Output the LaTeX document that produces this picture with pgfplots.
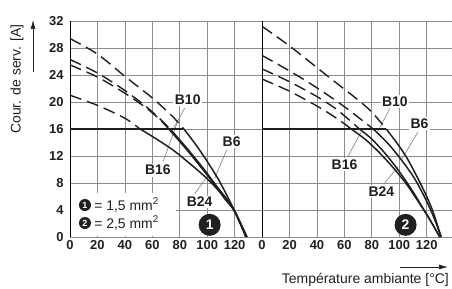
\documentclass[border=0pt]{standalone}
\usepackage{pgfplots}
\pgfplotsset{compat=1.18}
\usepackage{fontspec}
\setmainfont{Liberation Sans}
\usetikzlibrary{arrows.meta}
\definecolor{gridc}{gray}{0.55}
\definecolor{ink}{gray}{0.12}
\tikzset{
  sol/.style={draw=ink, line width=1.5bp, smooth, tension=0.5},
  dsh/.style={draw=ink, smooth, tension=0.5, dash pattern=on 12bp off 6bp, line width=1.4bp},
  lab/.style={font=\fontsize{14}{16}\selectfont\bfseries, fill=white, inner sep=1.5bp, text=ink},
  lead/.style={draw=gray, line width=0.6bp},
  bigc/.style={circle, fill=ink, text=white, minimum size=22bp, inner sep=0pt, font=\fontsize{14}{14}\selectfont\bfseries},
  smallc/.style={circle, fill=ink, text=white, minimum size=12bp, inner sep=0pt, font=\fontsize{9}{9}\selectfont\bfseries},
}
\pgfplotsset{
  panel/.style={
    scale only axis, clip=false,
    x=1.372bp, y=6.75bp,
    ymin=0, ymax=32, xmin=0,
    grid=major, major grid style={draw=gridc, line width=0.7bp},
    axis line style={draw=gridc, line width=0.7bp},
    major tick length=0pt,
    ytick={0,4,...,32},
    xtick={0,20,...,120},
    tick label style={font=\fontsize{13}{14}\selectfont\bfseries, text=ink},
    yticklabel style={xshift=-3bp},
    /pgf/number format/assume math mode=true,
    no markers,
  },
}
\begin{document}
\begin{tikzpicture}
\useasboundingbox (0,0) rectangle (452bp,289bp);
% ---------------- left panel (1,5 mm2)
\begin{axis}[panel, at={(70bp,52bp)}, anchor=south west, xmax=140]
\fill[white] (axis cs:0.4,0.15) rectangle (axis cs:77.5,6.5);
\node[smallc] at (axis cs:10.9,4.74) {1};
\node[smallc] at (axis cs:10.9,2.07) {2};
\node[anchor=west, font=\fontsize{14}{16}\selectfont, text=ink, inner sep=0pt] at (axis cs:17.6,4.74) {= 1,5 mm\textsuperscript{2}};
\node[anchor=west, font=\fontsize{14}{16}\selectfont, text=ink, inner sep=0pt] at (axis cs:17.6,2.07) {= 2,5 mm\textsuperscript{2}};
\draw[lead] (axis cs:83.6,19.1) -- (axis cs:74.9,15.9);
\draw[lead] (axis cs:67.9,11.2) -- (axis cs:78.8,17.3);
\draw[lead] (axis cs:114.2,12.9) -- (axis cs:105.5,8.7);
\draw[lead] (axis cs:90.9,6.4) -- (axis cs:101.1,9.3);
\node[lab] at (axis cs:85.8,20.4) {B10};
\node[lab] at (axis cs:64,9.9) {B16};
\node[lab] at (axis cs:117.8,14.1) {B6};
\node[lab] at (axis cs:94.5,5.2) {B24};
\node[bigc] at (axis cs:101.8,1.8) {1};
\draw[black, line width=1bp] (axis cs:0,0) -- (axis cs:0,32);
% horizontal limit
\addplot[draw=ink, line width=1.7bp] coordinates {(0,16) (82.6,16)};
% curve L1
\addplot[dsh] coordinates {(0,29.4) (20,27.1) (40,23.8) (60,20.6) (75,17.8) (83,16)};
\addplot[sol] coordinates {(83,16) (92,13.6) (100,11.2) (108,8.6) (114,6.3) (119,4.3) (124,2.2) (129,0)};
% curve L2
\addplot[dsh] coordinates {(0,26.3) (20,24.3) (40,21.7) (55,19.4) (65,17.6) (73,16)};
\addplot[sol] coordinates {(73,16) (85,13.2) (97,10.2) (107,7.5) (114,5.7) (119,4.2) (124,2.1) (129,0)};
% curve L3
\addplot[dsh] coordinates {(0,25.5) (20,23.7) (40,21.3) (55,19.2) (65,17.5) (72,16)};
\addplot[sol] coordinates {(72,16) (84,13.2) (96,10.2) (106,7.6) (113,5.6) (119,4.1) (124,2.0) (128.5,0)};
% curve L4
\addplot[dsh] coordinates {(0,21.0) (20,19.5) (40,17.6) (51,16)};
\addplot[sol] coordinates {(51,16) (60,14.9) (75,12.9) (86,11.1) (97,9.2) (105,7.6) (112,6.0) (119,4.2) (124,2.1) (128,0)};
\end{axis}
% ---------------- right panel (2,5 mm2)
\begin{axis}[panel, at={(262.08bp,52bp)}, anchor=south west, xmax=139, yticklabels={}]
\draw[lead] (axis cs:93,19) -- (axis cs:84,15.5);
\draw[lead] (axis cs:113.4,15.5) -- (axis cs:101.5,11.4);
\draw[lead] (axis cs:62.5,11.9) -- (axis cs:72.3,15.6);
\draw[lead] (axis cs:89.3,8.0) -- (axis cs:99,10.4);
\node[lab] at (axis cs:96.8,20.1) {B10};
\node[lab] at (axis cs:114.7,16.8) {B6};
\node[lab] at (axis cs:60.1,10.7) {B16};
\node[lab] at (axis cs:86.9,6.7) {B24};
\node[bigc] at (axis cs:104.6,1.8) {2};
\draw[black, line width=1bp] (axis cs:0,0) -- (axis cs:0,32);
\addplot[draw=ink, line width=1.7bp] coordinates {(0,16) (90.5,16)};
% R1
\addplot[dsh] coordinates {(0,31.2) (20,28.3) (48,23.8) (70,20.3) (80,18.5) (90.5,16)};
\addplot[sol] coordinates {(90.5,16) (98,14.0) (105,11.9) (112,9.3) (120,6.0) (125,3.5) (130.5,0)};
% R2
\addplot[dsh] coordinates {(0,26.9) (20,24.6) (40,22.1) (60,19.3) (81,16)};
\addplot[sol] coordinates {(81,16) (92,13.8) (102,11.3) (111,8.7) (119,5.7) (125,3.0) (130.5,0)};
% R3
\addplot[dsh] coordinates {(0,24.9) (20,23.0) (40,20.8) (55,18.8) (71,16)};
\addplot[sol] coordinates {(71,16) (80,14.5) (90,12.3) (100,9.7) (110,6.7) (118,4.0) (124,2.0) (129.5,0)};
% R4
\addplot[dsh] coordinates {(0,23.4) (20,21.6) (40,19.4) (55,17.5) (65,16)};
\addplot[sol] coordinates {(65,16) (75,14.5) (85,12.6) (95,10.4) (105,7.9) (114,5.2) (121,3.0) (129.5,0)};
\end{axis}
% ---------------- axis titles
\node[rotate=90, font=\fontsize{14}{16}\selectfont, text=ink] at (17bp,210bp) {Cour. de serv. [A]};
\draw[-{Latex[length=9bp,width=5bp]}, line width=0.7bp, ink] (33bp,217bp) -- (33bp,269bp);
\node[anchor=east, font=\fontsize{14}{16}\selectfont, text=ink, inner sep=0pt] at (449bp,9bp) {Température ambiante [°C]};
\draw[-{Latex[length=9bp,width=5bp]}, line width=0.7bp, ink] (400bp,22bp) -- (448bp,22bp);
\end{tikzpicture}
\end{document}
